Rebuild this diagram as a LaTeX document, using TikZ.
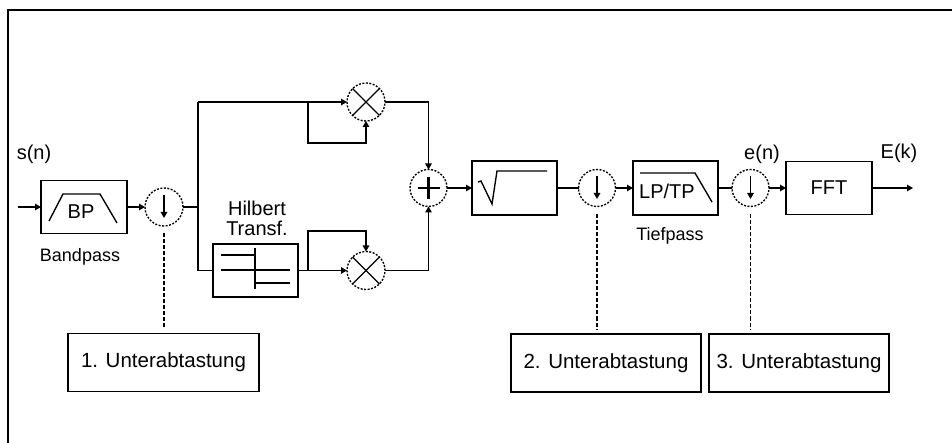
\documentclass[tikz,border=0pt]{standalone}
\usepackage{fontspec}
\setmainfont{Liberation Sans}
\usetikzlibrary{arrows.meta,calc}
\begin{document}
\begin{tikzpicture}[x=1pt,y=-1pt,
  line width=1.35pt,
  >={Triangle[length=6pt,width=6.5pt]},
  blk/.style={draw,rectangle,minimum width=85pt,minimum height=54pt,inner sep=0pt,outer sep=0pt},
  rnd/.style={draw,circle,dash pattern=on 2pt off 1.5pt,minimum size=38pt,inner sep=0pt,outer sep=0pt},
  lbl/.style={inner sep=0pt,font=\fontsize{20}{24}\selectfont},
  sml/.style={inner sep=0pt,font=\fontsize{18}{21}\selectfont},
  ubox/.style={draw,rectangle,minimum height=58pt,inner sep=0pt,outer sep=0pt,font=\fontsize{20.5}{24}\selectfont},
  dl/.style={dash pattern=on 4pt off 2pt}
]
\useasboundingbox (0,0) rectangle (952,443);
% frame
\draw[line width=1.7pt] (8,443) -- (8,10) -- (952,10);

% blocks
\node[blk,minimum width=86pt,minimum height=53pt] (bp) at (84,207) {};
\node[rnd] (ds1) at (164,207) {};
\node[blk,minimum height=53pt] (hil) at (255.5,270.5) {};
\node[rnd] (m1) at (366,102) {};
\node[rnd] (m2) at (366,270.5) {};
\node[rnd,minimum size=37pt] (add) at (428.5,188) {};
\node[blk] (sq) at (514.5,188) {};
\node[rnd,minimum size=37pt] (ds2) at (597,188) {};
\node[blk] (lp) at (675.5,188) {};
\node[rnd,minimum size=37pt] (ds3) at (750.5,188) {};
\node[blk,minimum width=86pt,minimum height=53pt,font=\fontsize{20}{24}\selectfont] (fft) at (829,188) {FFT};
\node[ubox,minimum width=191pt] (u1) at (163.5,362.5) {1. Unterabtastung};
\node[ubox,minimum width=190pt] (u2) at (606,363) {2. Unterabtastung};
\node[ubox,minimum width=180pt] (u3) at (799,363) {3. Unterabtastung};

% labels
\node[lbl] (sn) at (34,154) {s(n)};
\node[sml] (bpl) at (80,257) {Bandpass};
\node[lbl] (hl1) at (257,208) {Hilbert};
\node[lbl] (hl2) at (257,228) {Transf.};
\node[sml] (tpl) at (670,236) {Tiefpass};
\node[lbl] (en) at (762,154) {e(n)};
\node[lbl] (ek) at (899,153) {E(k)};
\node[lbl,anchor=base] (bpt) at (81,219) {BP};
\node[lbl,anchor=base] (lpt) at (667,198.5) {LP/TP};

% symbols inside blocks
\draw (49,221) -- (63,194) -- (100,194) -- (117,223);
\draw (478,182) -- (481,181) -- (492,204) -- (497,171) -- (547,171);
\draw (640,173) -- (695,173) -- (712,202);
\draw (221,255) -- (255,255);
\draw (221,270) -- (290,270);
\draw (255,283) -- (290,283);
\draw (255,248) -- (255,289);

% downsampler arrows
\foreach \n in {ds1,ds2,ds3}{
  \draw[->] ($(\n.center)+(0pt,12pt)$) -- ($(\n.center)+(0pt,-11pt)$);
}
% multiplier crosses
\foreach \n in {m1,m2}{
  \draw (\n.north west) -- (\n.south east);
  \draw (\n.north east) -- (\n.south west);
}
% plus
\draw[line width=2.6pt] ($(add.center)+(-11pt,0pt)$) -- ($(add.center)+(11pt,0pt)$);
\draw[line width=2.6pt] ($(add.center)+(0pt,-11pt)$) -- ($(add.center)+(0pt,11pt)$);

% connectors
\coordinate (in) at (18,207);
\draw[->] (in) -- (bp.west);
\draw[->] (bp.east) -- (ds1.west);
\coordinate (j) at (198,207);
\coordinate (jt) at (198,102);
\coordinate (jb) at (198,270.5);
\draw (ds1.east) -- (j);
\draw (jt) -- (jb) -- (hil.west);
\draw[->] (jt) -- (m1.west);
\coordinate (ft) at (308,102);
\coordinate (ftb) at (308,143);
\draw[->] (ft) -- (ftb) -| (m1.south);
\draw[->] (hil.east) -- (m2.west);
\coordinate (fb) at (308,270.5);
\coordinate (fbt) at (308,231);
\draw[->] (fb) -- (fbt) -| (m2.north);
\draw[->] (m1.east) -| (add.north);
\draw[->] (m2.east) -| (add.south);
\draw[->] (add.east) -- (sq.west);
\draw (sq.east) -- (ds2.west);
\draw[->] (ds2.east) -- (lp.west);
\draw (lp.east) -- (ds3.west);
\draw[->] (ds3.east) -- (fft.west);
\coordinate (out) at (913,188);
\draw[->] (fft.east) -- (out);

% dashed leaders
\draw[dl] ($(ds1.south)+(0pt,-7pt)$) -- ($(ds1.south |- u1.north)+(0pt,5pt)$);
\draw[dl] ($(ds2.south)+(0pt,-8pt)$) -- ($(ds2.south |- u2.north)+(0pt,5pt)$);
\draw[dl] ($(ds3.south)+(0pt,-8pt)$) -- ($(ds3.south |- u3.north)+(0pt,5pt)$);
\end{tikzpicture}
\end{document}
